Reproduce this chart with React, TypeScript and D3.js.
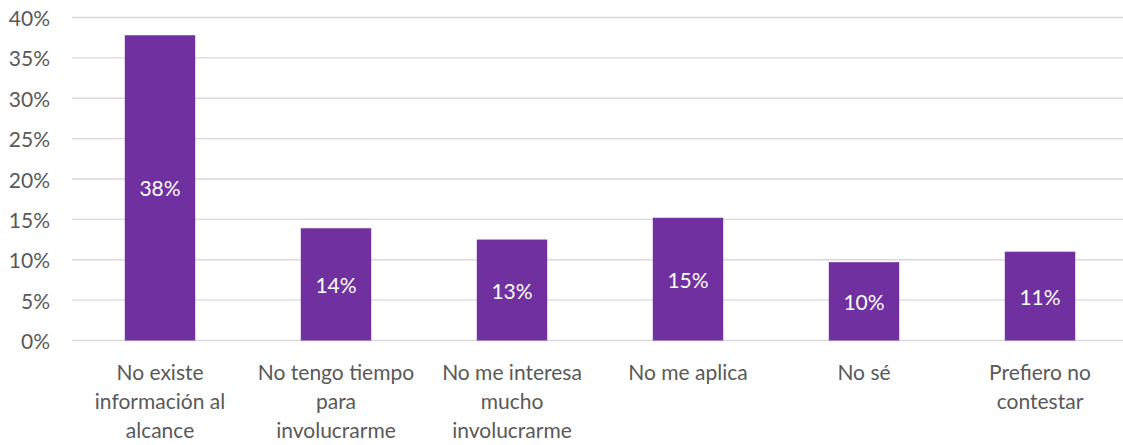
import { useEffect, useRef } from "react";
import * as d3 from "d3";

const categories = [
  "No existe\ninformación al\nalcance",
  "No tengo tiempo\npara\ninvolucrarme",
  "No me interesa\nmucho\ninvolucrarme",
  "No me aplica",
  "No sé",
  "Prefiero no\ncontestar",
];
const values = [37.8, 13.9, 12.5, 15.2, 9.7, 11.0];
const valueLabels = ["38%", "14%", "13%", "15%", "10%", "11%"];
const yTicks = [0, 5, 10, 15, 20, 25, 30, 35, 40];

const WIDTH = 1123;
const HEIGHT = 445;
const FONT = "Lato, 'Open Sans', sans-serif";

export default function App() {
  const svgRef = useRef<SVGSVGElement | null>(null);

  useEffect(() => {
    const svg = d3.select(svgRef.current);
    svg.selectAll("*").remove();

    const x = d3
      .scaleBand()
      .domain(categories)
      .range([72, 1128])
      .paddingInner(0.6)
      .paddingOuter(0.3);

    const y = d3.scaleLinear().domain([0, 40]).range([340.5, 17.5]);

    // gridlines
    svg
      .append("g")
      .selectAll("line")
      .data(yTicks)
      .enter()
      .append("line")
      .attr("x1", 72)
      .attr("x2", WIDTH)
      .attr("y1", (d) => y(d))
      .attr("y2", (d) => y(d))
      .attr("stroke", "#d9d9d9")
      .attr("stroke-width", 1.3);

    // y labels
    svg
      .append("g")
      .selectAll("text")
      .data(yTicks)
      .enter()
      .append("text")
      .attr("x", 50)
      .attr("y", (d) => y(d))
      .attr("text-anchor", "end")
      .attr("dominant-baseline", "central")
      .attr("font-family", FONT)
      .attr("font-size", 21)
      .attr("fill", "#595959")
      .text((d) => `${d}%`);

    // bars
    svg
      .append("g")
      .selectAll("rect")
      .data(values)
      .enter()
      .append("rect")
      .attr("x", (_, i) => x(categories[i])!)
      .attr("width", x.bandwidth())
      .attr("y", (d) => y(d))
      .attr("height", (d) => y(0) - y(d))
      .attr("fill", "#7030a0");

    // value labels
    svg
      .append("g")
      .selectAll("text")
      .data(values)
      .enter()
      .append("text")
      .attr("x", (_, i) => x(categories[i])! + x.bandwidth() / 2)
      .attr("y", (d) => (y(d) + y(0)) / 2)
      .attr("text-anchor", "middle")
      .attr("dominant-baseline", "central")
      .attr("font-family", FONT)
      .attr("font-size", 21)
      .attr("fill", "#ffffff")
      .text((_, i) => valueLabels[i]);

    // category labels
    const cats = svg
      .append("g")
      .selectAll("text")
      .data(categories)
      .enter()
      .append("text")
      .attr("x", (d) => x(d)! + x.bandwidth() / 2)
      .attr("y", 373)
      .attr("text-anchor", "middle")
      .attr("font-family", FONT)
      .attr("font-size", 21)
      .attr("fill", "#595959");

    cats
      .selectAll("tspan")
      .data((d) => d.split("\n"))
      .enter()
      .append("tspan")
      .attr("x", function () {
        return (this as SVGTSpanElement).parentElement!.getAttribute("x");
      })
      .attr("dy", (_, i) => (i === 0 ? "0.35em" : 29))
      .text((d) => d);
  }, []);

  return (
    <svg
      ref={svgRef}
      width={WIDTH}
      height={HEIGHT}
      style={{ position: "absolute", left: 0, top: 0, background: "#fff" }}
    />
  );
}
